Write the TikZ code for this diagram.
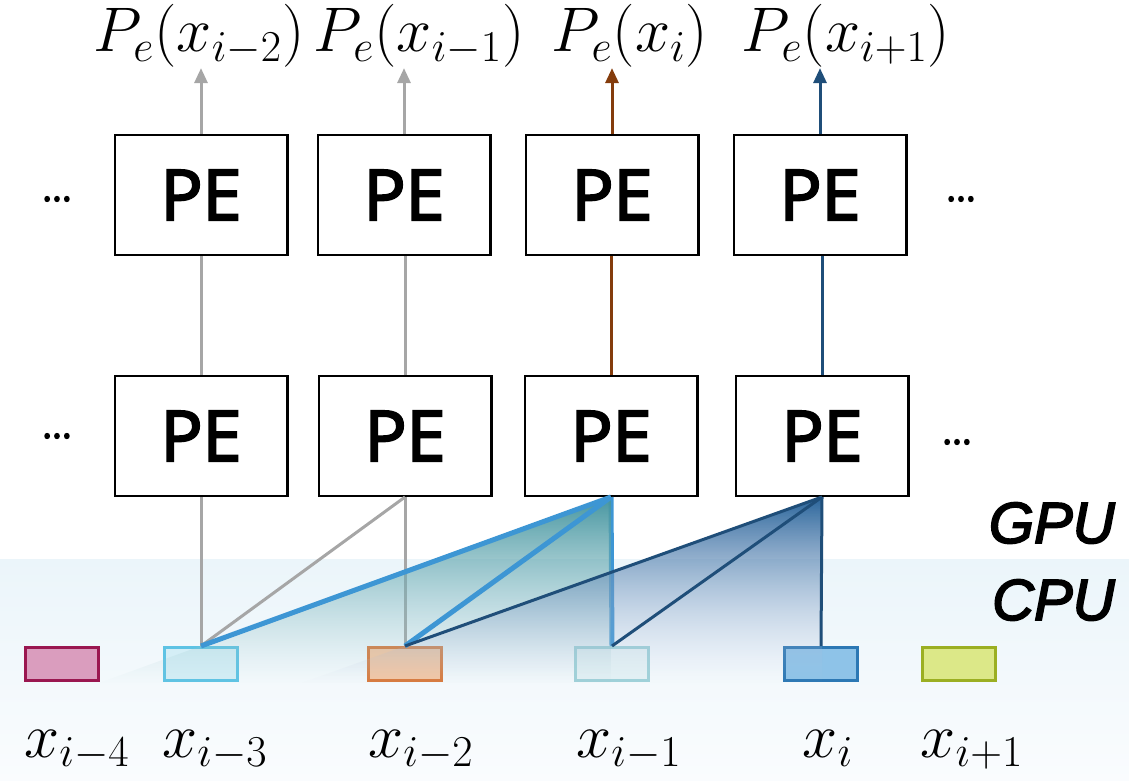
\RequirePackage{fix-cm}
\documentclass[tikz,border=0pt]{standalone}
\usepackage{fontspec}
\setsansfont{Open Sans}
\newfontfamily\pefont{Open Sans}[FakeBold=3]
\newfontfamily\unitfont{Liberation Sans}[FakeBold=3]
\usetikzlibrary{positioning,arrows.meta,calc,fadings}

\definecolor{lineGray}{HTML}{A6A6A6}
\definecolor{lineBrown}{HTML}{843C0C}
\definecolor{lineDark}{HTML}{1F4E79}
\definecolor{lineLight}{HTML}{3D96D4}
\definecolor{bandTop}{HTML}{EBF5FA}
\definecolor{bandBot}{HTML}{FAFCFE}
\definecolor{tealTop}{HTML}{4595A0}
\definecolor{tealBot}{HTML}{A7CFD3}
\definecolor{darkTop}{HTML}{2A659B}
\definecolor{darkBot}{HTML}{C6CEE6}
\definecolor{pinkLine}{HTML}{9A1750}
\definecolor{pinkFill}{HTML}{DA9DBE}
\definecolor{cyanLine}{HTML}{5EC3E4}
\definecolor{cyanFill}{HTML}{D4EEF6}
\definecolor{orangeLine}{HTML}{D97A3D}
\definecolor{orangeFill}{HTML}{F4C6A4}
\definecolor{paleLine}{HTML}{9FD2D9}
\definecolor{paleFill}{HTML}{E4F2F5}
\definecolor{blueLine}{HTML}{2C78B4}
\definecolor{blueFill}{HTML}{8EC3E8}
\definecolor{limeLine}{HTML}{9BAF22}
\definecolor{limeFill}{HTML}{DCE888}

\tikzfading[name=fadedown, top color=transparent!0, middle color=transparent!25,
  bottom color=transparent!100]

\tikzset{
  pebox/.style={draw, line width=1.2pt, minimum width=86.3pt, minimum height=59.8pt,
    inner sep=0pt, font=\pefont\fontsize{35}{40}\selectfont},
  inrect/.style={line width=1.5pt, minimum width=36.5pt, minimum height=16.5pt, inner sep=0pt},
  mathlbl/.style={inner sep=0pt, font=\fontsize{31.5}{36}\selectfont},
  dotlbl/.style={inner sep=0pt, font=\pefont\fontsize{19}{22}\selectfont},
  unitlbl/.style={inner sep=0pt, anchor=base east, font=\unitfont\itshape\fontsize{29}{34}\selectfont},
  link/.style={line width=1.5pt},
  uplink/.style={line width=1.5pt, -{Triangle[width=6.5pt,length=7.5pt]}}
}

\begin{document}
\begin{tikzpicture}[x=0.5pt, y=-0.5pt]
  \useasboundingbox (0,0) rectangle (1129,781);
  % CPU band
  \shade[top color=bandTop, bottom color=bandBot] (0,559) rectangle (1129,781);

  % PE layers
  \node[pebox] (pe21) at (201,195) {PE};
  \node[pebox] (pe22) at (404,195) {PE};
  \node[pebox] (pe23) at (612,195) {PE};
  \node[pebox] (pe24) at (820,195) {PE};
  \node[pebox] (pe11) at (201,436) {PE};
  \node[pebox] (pe12) at (405,436) {PE};
  \node[pebox] (pe13) at (611,436) {PE};
  \node[pebox] (pe14) at (822,436) {PE};

  \node[dotlbl] (dl2) at (57,199) {\dots};
  \node[dotlbl] (dl1) at (57,436) {\dots};
  \node[dotlbl] (dr2) at (961,199) {\dots};
  \node[dotlbl] (dr1) at (957,442) {\dots};

  % outputs
  \node[mathlbl, anchor=base] (out1) at (199,52) {$P_e(x_{i-2})$};
  \node[mathlbl, anchor=base] (out2) at (419,52) {$P_e(x_{i-1})$};
  \node[mathlbl, anchor=base] (out3) at (630,52) {$P_e(x_{i})$};
  \node[mathlbl, anchor=base] (out4) at (846,52) {$P_e(x_{i+1})$};

  \draw[uplink, lineGray] (pe21.north) -- (pe21.north |- out1.south);
  \draw[uplink, lineGray] (pe22.north) -- (pe22.north |- out2.south);
  \draw[uplink, lineBrown] (pe23.north) -- (pe23.north |- out3.south);
  \draw[uplink, lineDark] (pe24.north) -- (pe24.north |- out4.south);

  \draw[link, lineGray] (pe11.north) -- (pe11.north |- pe21.south);
  \draw[link, lineGray] (pe12.north) -- (pe12.north |- pe22.south);
  \draw[link, lineBrown] (pe13.north) -- (pe13.north |- pe23.south);
  \draw[link, lineDark] (pe14.north) -- (pe14.north |- pe24.south);

  % inputs
  \node[inrect, draw=pinkLine, fill=pinkFill] (xim4) at (62,664) {};
  \node[inrect, draw=cyanLine, fill=cyanFill] (xim3) at (201,664) {};
  \node[inrect, draw=orangeLine, fill=orangeFill] (xim2) at (405,664) {};
  \node[inrect, draw=paleLine, fill=paleFill] (xim1) at (612,664) {};
  \node[inrect, draw=blueLine, fill=blueFill] (xi) at (821,664) {};
  \node[inrect, draw=limeLine, fill=limeFill] (xip1) at (959,664) {};

  \node[mathlbl, anchor=base] (lxim4) at (77,757) {$x_{i-4}$};
  \node[mathlbl, anchor=base] (lxim3) at (215,757) {$x_{i-3}$};
  \node[mathlbl, anchor=base] (lxim2) at (421,757) {$x_{i-2}$};
  \node[mathlbl, anchor=base] (lxim1) at (629,757) {$x_{i-1}$};
  \node[mathlbl, anchor=base] (lxi) at (828,757) {$x_{i}$};
  \node[mathlbl, anchor=base] (lxip1) at (972,757) {$x_{i+1}$};

  \node[unitlbl] (gpu) at (1115,543) {GPU};
  \node[unitlbl] (cpu) at (1115,620) {CPU};

  % gray links
  \draw[link, lineGray] (pe11.south) -- (xim3.north);
  \draw[link, lineGray] (pe12.south) -- (xim3.north);
  \draw[link, lineGray] (pe12.south) -- (xim2.north);

  % light blue cone
  \draw[line width=2.5pt, lineLight] (pe13.south) -- (xim1.north);
  \coordinate (tealend) at ($(pe13.south)!1.25!(xim3.north)$);
  \shade[top color=tealTop, bottom color=tealBot, path fading=fadedown]
    (pe13.south) -- (tealend) -- (pe13.south |- tealend) -- cycle;
  \draw[line width=2.5pt, lineLight] (pe13.south) -- (xim3.north);
  \draw[line width=2.5pt, lineLight] (pe13.south) -- (xim2.north);

  % dark blue cone
  \coordinate (darkend) at ($(pe14.south)!1.25!(xim2.north)$);
  \shade[top color=darkTop, bottom color=darkBot, path fading=fadedown]
    (pe14.south) -- (darkend) -- (pe14.south |- darkend) -- cycle;
  \draw[link, lineDark] (pe14.south) -- (xim2.north);
  \draw[link, lineDark] (pe14.south) -- (xim1.north);
  \draw[link, lineDark] (pe14.south) -- (xi.north);
\end{tikzpicture}
\end{document}
